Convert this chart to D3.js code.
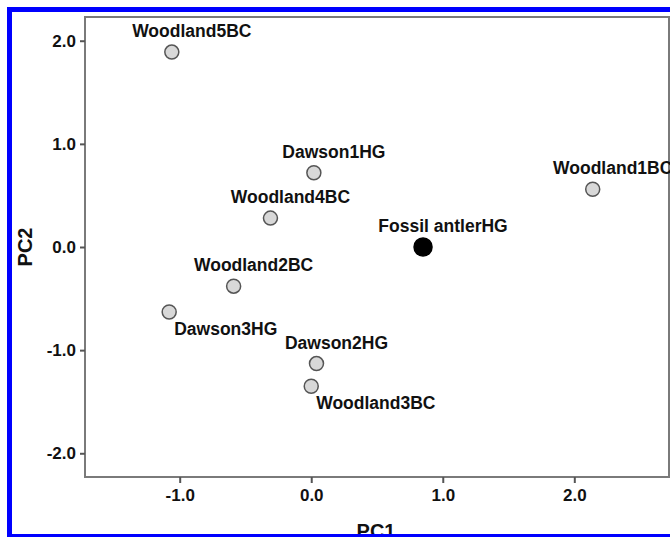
<!DOCTYPE html>
<html>
<head>
<meta charset="utf-8">
<script src="https://cdn.jsdelivr.net/npm/d3@7"></script>
<style>
  body { margin: 0; background: #fff; }
  svg text { font-family: "Liberation Sans", Arial, sans-serif; font-weight: bold; }
</style>
</head>
<body>
<svg width="670" height="537"></svg>
<script>
// sample names and their PC scores
var names = ['Woodland5BC', 'Dawson1HG', 'Woodland4BC', 'Fossil antlerHG', 'Woodland1BC',
             'Woodland2BC', 'Dawson3HG', 'Dawson2HG', 'Woodland3BC'];
var pc1 = [-1.06, 0.02, -0.31, 0.85, 2.14, -0.59, -1.08, 0.04, 0.00];
var pc2 = [1.89, 0.72, 0.28, 0.00, 0.56, -0.38, -0.63, -1.13, -1.35];
var fossilNames = ['Fossil antlerHG'];
var labelsBelow = ['Dawson3HG', 'Woodland3BC'];
var xTicks = [-1, 0, 1, 2];
var yTicks = [-2, -1, 0, 1, 2];

var points = names.map(function (n, i) {
  return { name: n, x: pc1[i], y: pc2[i] };
});

var svg = d3.select('svg');

// plot frame edges ('top' is taken by window.top, so prefix them)
var fLeft = 85, fTop = 17, fRight = 669, fBottom = 477;

var x = d3.scaleLinear().domain([-1.72, 2.72]).range([fLeft, fRight]);
var y = d3.scaleLinear().domain([-2.23, 2.23]).range([fBottom, fTop]);
var fmt = function (v) { return d3.format('.1f')(v).replace('\u2212', '-'); };

// plot frame
svg.append('rect')
  .attr('x', fLeft)
  .attr('y', fTop)
  .attr('width', fRight - fLeft)
  .attr('height', fBottom - fTop)
  .attr('fill', 'none')
  .attr('stroke', '#7a7a7a')
  .attr('stroke-width', 2);

var xAxis = svg.append('g')
  .attr('transform', 'translate(0,' + fBottom + ')')
  .call(d3.axisBottom(x).tickValues(xTicks).tickFormat(fmt).tickSize(6).tickPadding(6));

var yAxis = svg.append('g')
  .attr('transform', 'translate(' + fLeft + ',0)')
  .call(d3.axisLeft(y).tickValues(yTicks).tickFormat(fmt).tickSize(5).tickPadding(4));

[xAxis, yAxis].forEach(function (ax) {
  ax.select('.domain').remove();
  ax.selectAll('line').attr('stroke', '#555').attr('stroke-width', 2);
  ax.selectAll('text')
    .attr('fill', '#111')
    .style('font-size', '17px')
    .style('font-family', '"Liberation Sans", Arial, sans-serif')
    .style('font-weight', 'bold');
});

// axis titles
svg.append('text')
  .text('PC1')
  .attr('x', (fLeft + fRight) / 2 - 1)
  .attr('y', 538)
  .attr('text-anchor', 'middle')
  .attr('fill', '#111')
  .attr('font-size', 20);

svg.append('text')
  .text('PC2')
  .attr('transform', 'translate(32,' + y(0) + ') rotate(-90)')
  .attr('text-anchor', 'middle')
  .attr('fill', '#111')
  .attr('font-size', 20);

// points
svg.selectAll('circle.pt')
  .data(points)
  .enter()
  .append('circle')
  .attr('class', 'pt')
  .attr('cx', function (d) { return x(d.x); })
  .attr('cy', function (d) { return y(d.y); })
  .attr('r', function (d) { return fossilNames.indexOf(d.name) >= 0 ? 9 : 7; })
  .attr('fill', function (d) { return fossilNames.indexOf(d.name) >= 0 ? '#000' : '#d8d8d8'; })
  .attr('stroke', function (d) { return fossilNames.indexOf(d.name) >= 0 ? '#000' : '#555'; })
  .attr('stroke-width', 1.5);

// point labels
svg.selectAll('text.lbl')
  .data(points)
  .enter()
  .append('text')
  .attr('class', 'lbl')
  .text(function (d) { return d.name; })
  .attr('x', function (d) {
    return labelsBelow.indexOf(d.name) >= 0 ? x(d.x) + 5 : x(d.x) + 20;
  })
  .attr('y', function (d) {
    return labelsBelow.indexOf(d.name) >= 0 ? y(d.y) + 23 : y(d.y) - 15;
  })
  .attr('text-anchor', function (d) {
    return labelsBelow.indexOf(d.name) >= 0 ? 'start' : 'middle';
  })
  .attr('fill', '#111')
  .attr('font-size', 17.5);

// blue outer border (runs off the right edge)
svg.append('rect')
  .attr('x', 9.5)
  .attr('y', 9.5)
  .attr('width', 700)
  .attr('height', 527)
  .attr('fill', 'none')
  .attr('stroke', '#0000ff')
  .attr('stroke-width', 5);
</script>
</body>
</html>
